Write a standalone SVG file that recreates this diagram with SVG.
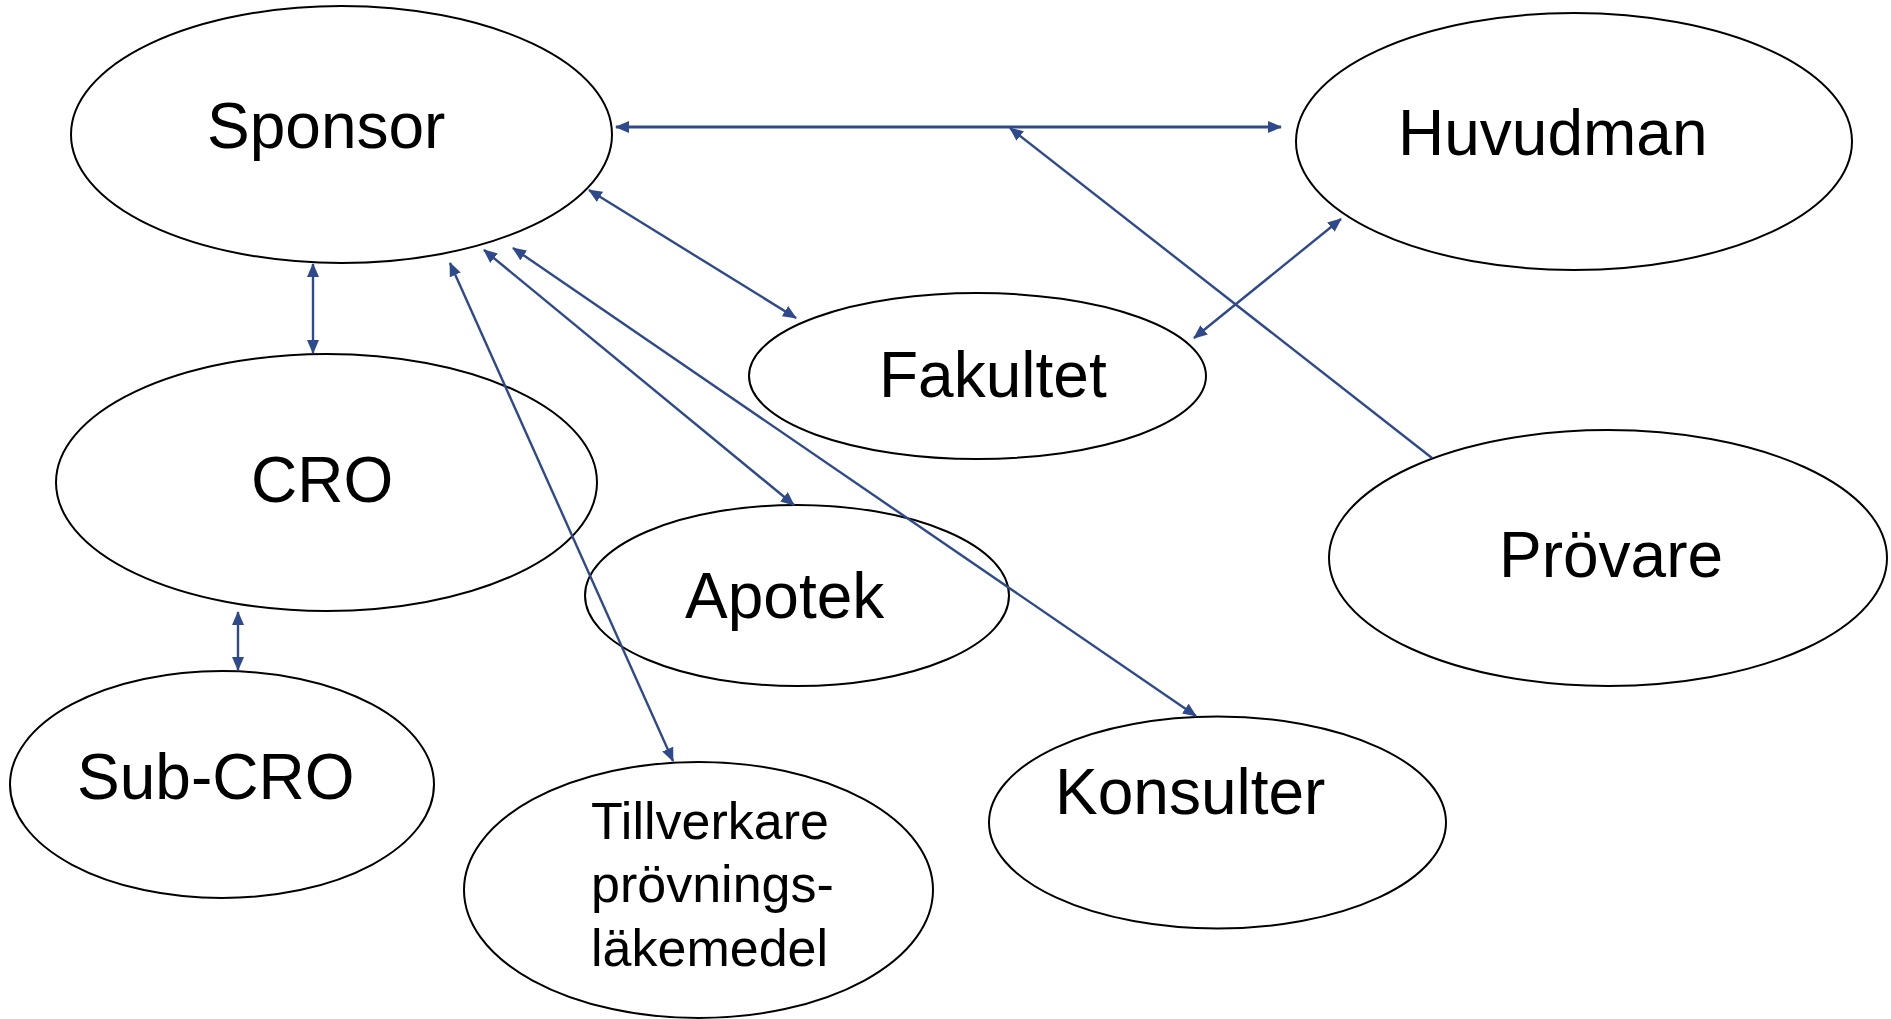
<svg xmlns="http://www.w3.org/2000/svg" width="1891" height="1019" viewBox="0 0 1891 1019">
<style>
.node ellipse{fill:none;stroke:#000;stroke-width:2}
.node text{font-family:"Liberation Sans",Arial,sans-serif;font-size:64px;fill:#000}
.conn line{stroke:#2F4A8C;stroke-width:2.4;fill:none}
</style>
<defs>
<marker id="ah" viewBox="0 0 14 12" refX="13" refY="6" markerWidth="14" markerHeight="12" markerUnits="userSpaceOnUse" orient="auto-start-reverse">
<path d="M0,0 L14,6 L0,12 z" fill="#2F4A8C"/>
</marker>
</defs>
<rect width="1891" height="1019" fill="#fff"/>
<g id="sponsor" class="node"><ellipse cx="341.5" cy="134.5" rx="270.5" ry="128.5"/><text x="207" y="148">Sponsor</text></g>
<g id="huvudman" class="node"><ellipse cx="1574" cy="141.5" rx="278" ry="128.5"/><text x="1398" y="155">Huvudman</text></g>
<g id="fakultet" class="node"><ellipse cx="977.5" cy="376" rx="228.5" ry="83"/><text x="879" y="397">Fakultet</text></g>
<g id="provare" class="node"><ellipse cx="1608" cy="558" rx="279" ry="128"/><text x="1499" y="577">Prövare</text></g>
<g id="cro" class="node"><ellipse cx="326.5" cy="482.5" rx="270.5" ry="128.5"/><text x="251" y="502">CRO</text></g>
<g id="subcro" class="node"><ellipse cx="222" cy="784.5" rx="212" ry="113.5"/><text x="77" y="799">Sub-CRO</text></g>
<g id="apotek" class="node"><ellipse cx="797" cy="595.5" rx="212" ry="90.5"/><text x="685" y="617.5">Apotek</text></g>
<g id="tillverkare" class="node"><ellipse cx="698.5" cy="890" rx="234.5" ry="128"/><text x="591" style="font-size:52px"><tspan x="591" y="839">Tillverkare</tspan><tspan x="591" y="902">prövnings-</tspan><tspan x="591" y="966">läkemedel</tspan></text></g>
<g id="konsulter" class="node"><ellipse cx="1217.5" cy="822.5" rx="228.5" ry="106"/><text x="1055" y="813.5">Konsulter</text></g>
<g id="connectors" class="conn">
<line x1="616" y1="127" x2="1281" y2="127" marker-start="url(#ah)" marker-end="url(#ah)" style="stroke-width:2.8"/>
<line x1="1432" y1="458" x2="1010" y2="128" marker-end="url(#ah)"/>
<line x1="1194" y1="338" x2="1341" y2="219" marker-start="url(#ah)" marker-end="url(#ah)"/>
<line x1="589" y1="190" x2="796" y2="318" marker-start="url(#ah)" marker-end="url(#ah)"/>
<line x1="313" y1="264" x2="313" y2="353" marker-start="url(#ah)" marker-end="url(#ah)"/>
<line x1="238" y1="612" x2="238" y2="670" marker-start="url(#ah)" marker-end="url(#ah)"/>
<line x1="450" y1="263" x2="673" y2="761" marker-start="url(#ah)" marker-end="url(#ah)"/>
<line x1="484" y1="250" x2="794" y2="505" marker-start="url(#ah)" marker-end="url(#ah)"/>
<line x1="513" y1="248" x2="1196" y2="716" marker-start="url(#ah)" marker-end="url(#ah)"/>
</g>
</svg>
